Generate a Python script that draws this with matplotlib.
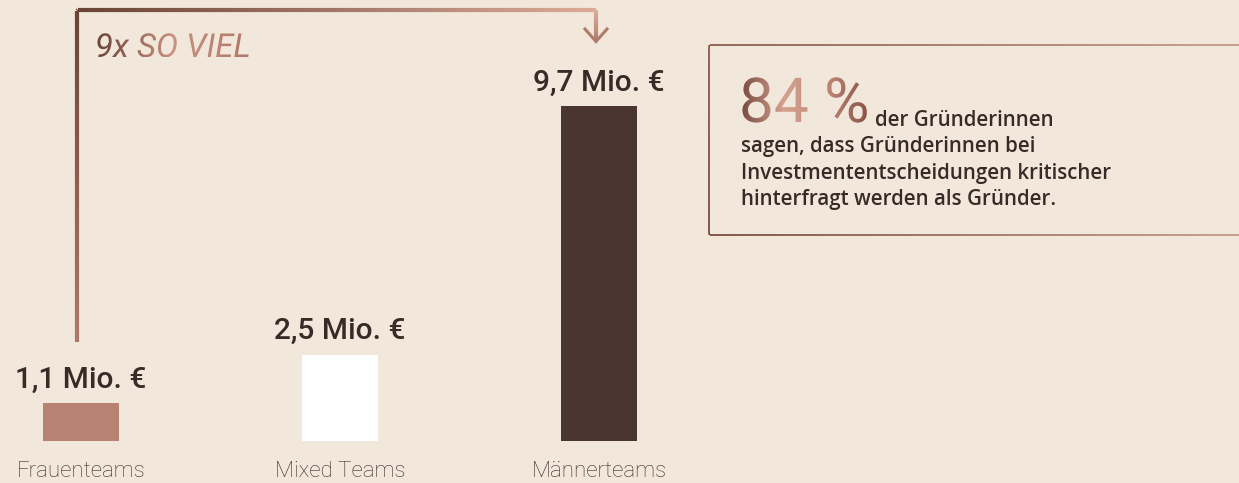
import numpy as np
import matplotlib
matplotlib.use("Agg")
import matplotlib.pyplot as plt
from matplotlib.collections import LineCollection
from matplotlib.colors import LinearSegmentedColormap, to_rgb
from matplotlib.font_manager import FontProperties
from matplotlib.patches import PathPatch
from matplotlib.textpath import TextPath
from matplotlib.transforms import Affine2D

# data
categories = ["Frauenteams", "Mixed Teams", "Männerteams"]
values = [1.1, 2.5, 9.7]          # Mio. €
bar_colors = ["#b88272", "#ffffff", "#4a3530"]
ratio_text = ("9x", "SO VIEL")
stat_big = "84 %"
stat_lines = ["der Gründerinnen",
              "sagen, dass Gründerinnen bei",
              "Investmententscheidungen kritischer",
              "hinterfragt werden als Gründer."]

W, H = 1239, 483
BG = "#f1e7da"
DARK = "#3a2a27"

fig = plt.figure(figsize=(W / 100, H / 100), dpi=100, facecolor=BG)

# main axes: 259 px per category, 34.5 px per Mio. €, baseline 42 px from bottom
ax = fig.add_axes([0, 0, 1, 1])
ax.set_facecolor(BG)
ax.set_xlim(-81 / 259, (W - 81) / 259)
ax.set_ylim(-42 / 34.5, (H - 42) / 34.5)
ax.axis("off")

x = np.arange(len(categories))
ax.bar(x, values, width=0.293, color=bar_colors, zorder=2)

for i, v in enumerate(values):
    lab = f"{v:.1f}".replace(".", ",") + " Mio. €"
    ax.text(i, v + 0.45, lab, ha="center", va="baseline", fontsize=21.5,
            family="Roboto", fontweight="medium", color=DARK)
    ax.text(i, -1.05, categories[i], ha="center", va="baseline", fontsize=16,
            family="Roboto", fontweight="light", color="#3a2e2b")

# overlay in pixel coords (y from top)
ov = fig.add_axes([0, 0, 1, 1], zorder=3)
ov.set_xlim(0, W)
ov.set_ylim(H, 0)
ov.axis("off")
ov.patch.set_visible(False)


def to_px(xd, yd):
    px, py = ax.transData.transform((xd, yd))
    return px, H - py


def grad_line(pts, cols, lw):
    pts = np.asarray(pts, float)
    seg_len = np.hypot(*np.diff(pts, axis=0).T)
    cum = np.concatenate([[0], np.cumsum(seg_len)])
    t = np.linspace(0, cum[-1], 600)
    xs = np.interp(t, cum, pts[:, 0])
    ys = np.interp(t, cum, pts[:, 1])
    stops = cum / cum[-1]
    rgb = np.array([to_rgb(c) for c in cols])
    cc = np.column_stack([np.interp(t / cum[-1], stops, rgb[:, k]) for k in range(3)])
    p = np.column_stack([xs, ys]).reshape(-1, 1, 2)
    segs = np.concatenate([p[:-1], p[1:]], axis=1)
    ov.add_collection(LineCollection(segs, colors=cc[:-1], linewidths=lw,
                                     capstyle="butt", joinstyle="miter"))


def grad_text(s, x0, base, size_px, stops, **fp):
    tp = TextPath((0, 0), s, size=size_px, prop=FontProperties(**fp))
    tr = Affine2D().scale(1, -1).translate(x0, base)
    path = tr.transform_path(tp)
    patch = PathPatch(path, facecolor="none", edgecolor="none")
    ov.add_patch(patch)
    ext = path.get_extents()
    cmap = LinearSegmentedColormap.from_list("g", stops)
    grad = np.linspace(0, 1, 256).reshape(1, -1)
    im = ov.imshow(grad, cmap=cmap, aspect="auto",
                   extent=[ext.x0, ext.x1, ext.y1, ext.y0], zorder=4)
    im.set_clip_path(patch)
    return ext


# connector arrow from Frauenteams to Männerteams
xl, _ = to_px(0, 0)
xr, _ = to_px(2, 0)
xl -= 4
xr -= 3
grad_line([(xl, 342), (xl, 10), (xr, 10), (xr, 41)],
          ["#b07868", "#6a4336", "#dcab98", "#b07a6b"], 3)
ov.plot([xr - 11, xr, xr + 11], [29, 41.5, 29], color="#b07a6b", lw=2.2,
        solid_joinstyle="miter", zorder=4)

grad_text(ratio_text[0] + " " + ratio_text[1], 95, 57, 33,
          ["#6d4438", "#c9917f", "#b0786a"], family="Roboto", style="italic")

# info box
grad_line([(1245, 45), (709, 45), (709, 235), (1245, 235)],
          ["#c8998a", "#8a5a4c", "#7a4c40", "#c8998a"], 1.3)

ext = grad_text(stat_big, 739, 122, 62,
                ["#7b4d41", "#d4a190", "#c08878", "#8a5648"],
                family="Roboto", weight="normal")

ov.text(ext.x1 + 8, 126, stat_lines[0], fontsize=14.8, family="Open Sans",
        fontweight="semibold", color=DARK, va="baseline")
for k, line in enumerate(stat_lines[1:]):
    ov.text(741, 152 + 26.5 * k, line, fontsize=14.8, family="Open Sans",
            fontweight="semibold", color=DARK, va="baseline")

ov.set_xlim(0, W)
ov.set_ylim(H, 0)
fig.savefig("out.png", dpi=100, facecolor=BG)
